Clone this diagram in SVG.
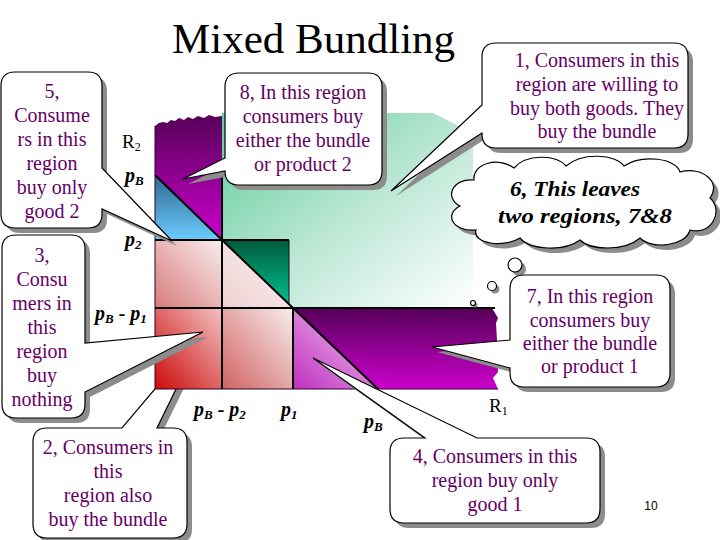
<svg xmlns="http://www.w3.org/2000/svg" width="720" height="540" viewBox="0 0 720 540">
<defs>
<style>
.ct{font-family:"Liberation Serif","Times New Roman",serif;font-size:20px;fill:#660066;text-anchor:middle}
.lb{font-family:"Liberation Serif","Times New Roman",serif;font-size:20px;font-weight:bold;font-style:italic;fill:#000}
.rl{font-family:"Liberation Serif","Times New Roman",serif;font-size:19px;fill:#000}
.box{fill:#fff;stroke:#000;stroke-width:1.2}
.sh{fill:#8c8c8c}
.ln{stroke:#000;stroke-width:2;fill:none}
.thin{stroke:#2a002a;stroke-width:1;fill:none}
</style>
<linearGradient id="gTeal" x1="0" y1="0" x2="1" y2="1"><stop offset="0" stop-color="#5ecb9c"/><stop offset="0.5" stop-color="#b8e6d2"/><stop offset="1" stop-color="#ffffff"/></linearGradient>
<linearGradient id="gPurV" x1="0" y1="0" x2="0" y2="1"><stop offset="0" stop-color="#550058"/><stop offset="1" stop-color="#cc00cc"/></linearGradient>
<linearGradient id="gBlue" x1="0" y1="0" x2="0" y2="1"><stop offset="0" stop-color="#2e6890"/><stop offset="1" stop-color="#6cccff"/></linearGradient>
<linearGradient id="gGreen" x1="0" y1="0" x2="0" y2="1"><stop offset="0" stop-color="#005a3a"/><stop offset="1" stop-color="#00c292"/></linearGradient>
<linearGradient id="gPink1" x1="0" y1="1" x2="1" y2="0"><stop offset="0" stop-color="#d87a7a"/><stop offset="1" stop-color="#f8eeee"/></linearGradient>
<linearGradient id="gRed" x1="0" y1="1" x2="1" y2="0"><stop offset="0" stop-color="#cc0a0a"/><stop offset="1" stop-color="#f2c2c2"/></linearGradient>
<linearGradient id="gPink4" x1="0" y1="1" x2="1" y2="0"><stop offset="0" stop-color="#d06262"/><stop offset="1" stop-color="#f8eded"/></linearGradient>
<linearGradient id="gPinkT" x1="0" y1="1" x2="1" y2="0"><stop offset="0" stop-color="#eed0d0"/><stop offset="1" stop-color="#fbf4f4"/></linearGradient>
<linearGradient id="gMag" x1="0" y1="1" x2="1" y2="0"><stop offset="0" stop-color="#c02ec0"/><stop offset="1" stop-color="#f2d0f2"/></linearGradient>
</defs>
<rect width="720" height="540" fill="#fff"/>

<g id="callout2">
<path class="sh" transform="translate(5,5)" d="M47,428 H122 L205,330 L157,428 H173 Q187,428 187,442 V524 Q187,538 173,538 H47 Q33,538 33,524 V442 Q33,428 47,428 Z"/>
<path class="box" d="M47,428 H122 L205,330 L157,428 H173 Q187,428 187,442 V524 Q187,538 173,538 H47 Q33,538 33,524 V442 Q33,428 47,428 Z"/>
<text class="ct"><tspan x="108" y="454">2, Consumers in</tspan><tspan x="108" y="478">this</tspan><tspan x="108" y="502">region also</tspan><tspan x="108" y="526">buy the bundle</tspan></text>
</g>

<g id="plot">
<polygon fill="url(#gTeal)" points="222,113 433,113 473,133 473,308 222,308"/>
<polygon fill="url(#gPurV)" points="155,126 159,123 163,122 167,123 171,120 175,121 179,118 184,120 188,117 193,119 198,116 204,118 209,115 215,117 222,116 222,240 155,175"/>
<polygon fill="url(#gBlue)" points="155,175 222,240 155,240"/>
<rect x="155" y="240" width="67" height="68" fill="url(#gPink1)"/>
<polygon fill="url(#gPinkT)" points="222,240 293,308 222,308"/>
<polygon fill="url(#gGreen)" points="222,240 289,240 289,304"/>
<rect x="155" y="308" width="67" height="81" fill="url(#gRed)"/>
<rect x="222" y="308" width="71" height="81" fill="url(#gPink4)"/>
<polygon fill="url(#gPurV)" points="293,308 492,308 498,318 496,323 497,340 498,372 493,378 498,389 378,389"/>
<polygon fill="url(#gMag)" points="293,308 378,389 293,389"/>
</g>

<g id="connectors">
<line class="thin" x1="155" y1="126" x2="155" y2="389"/>
<line class="thin" x1="155" y1="389" x2="498" y2="389"/>
<line class="thin" x1="289" y1="240" x2="289" y2="304"/>
<line class="ln" x1="222" y1="175" x2="222" y2="389"/>
<line class="ln" x1="293" y1="308" x2="293" y2="389"/>
<line class="ln" x1="155" y1="240" x2="289" y2="240"/>
<line class="ln" x1="155" y1="308" x2="495" y2="308"/>
<line class="ln" x1="155" y1="175" x2="222" y2="240" stroke-width="1.5"/>
<line class="ln" x1="222" y1="240" x2="293" y2="308" stroke-width="1.5"/>
<line class="ln" x1="293" y1="308" x2="378" y2="389" stroke-width="1.5"/>
</g>

<g id="labels">
<text class="rl" x="122" y="148">R<tspan font-size="12" dy="3">2</tspan></text>
<text class="lb" x="125" y="182">p<tspan font-size="13" dy="3">B</tspan></text>
<text class="lb" x="125" y="246">p<tspan font-size="13" dy="3">2</tspan></text>
<text class="lb" x="95" y="320">p<tspan font-size="13" dy="3">B</tspan><tspan dy="-3"> - p</tspan><tspan font-size="13" dy="3">1</tspan></text>
<text class="lb" x="194" y="416">p<tspan font-size="13" dy="3">B</tspan><tspan dy="-3"> - p</tspan><tspan font-size="13" dy="3">2</tspan></text>
<text class="lb" x="281" y="416">p<tspan font-size="13" dy="3">1</tspan></text>
<text class="lb" x="364" y="428">p<tspan font-size="13" dy="3">B</tspan></text>
<text class="rl" x="489" y="412">R<tspan font-size="12" dy="3">1</tspan></text>
</g>

<g id="callout5">
<path class="sh" transform="translate(5,5)" d="M15,72 H88 Q102,72 102,86 V168 L172,241 L102,209 V214 Q102,228 88,228 H15 Q1,228 1,214 V86 Q1,72 15,72 Z"/>
<path class="box" d="M15,72 H88 Q102,72 102,86 V168 L172,241 L102,209 V214 Q102,228 88,228 H15 Q1,228 1,214 V86 Q1,72 15,72 Z"/>
<text class="ct"><tspan x="52" y="98">5,</tspan><tspan x="52" y="122">Consume</tspan><tspan x="52" y="146">rs in this</tspan><tspan x="52" y="170">region</tspan><tspan x="52" y="194">buy only</tspan><tspan x="52" y="218">good 2</tspan></text>
</g>

<g id="callout3">
<path class="sh" transform="translate(5,5)" d="M16,235 H71 Q85,235 85,249 V343 L203,332 L85,392 V404 Q85,418 71,418 H16 Q2,418 2,404 V249 Q2,235 16,235 Z"/>
<path class="box" d="M16,235 H71 Q85,235 85,249 V343 L203,332 L85,392 V404 Q85,418 71,418 H16 Q2,418 2,404 V249 Q2,235 16,235 Z"/>
<text class="ct"><tspan x="42" y="262">3,</tspan><tspan x="42" y="286">Consu</tspan><tspan x="42" y="310">mers in</tspan><tspan x="42" y="334">this</tspan><tspan x="42" y="358">region</tspan><tspan x="42" y="382">buy</tspan><tspan x="42" y="406">nothing</tspan></text>
</g>

<g id="callout8">
<path class="sh" transform="translate(5,5)" d="M239,73 H368 Q382,73 382,87 V171 Q382,185 368,185 H239 Q225,185 225,171 L183,179 L225,158 V87 Q225,73 239,73 Z"/>
<path class="box" d="M239,73 H368 Q382,73 382,87 V171 Q382,185 368,185 H239 Q225,185 225,171 L183,179 L225,158 V87 Q225,73 239,73 Z"/>
<text class="ct"><tspan x="303" y="99">8, In this region</tspan><tspan x="303" y="123">consumers buy</tspan><tspan x="303" y="147">either the bundle</tspan><tspan x="303" y="171">or product 2</tspan></text>
</g>

<g id="callout1">
<path class="sh" transform="translate(5,5)" d="M496,43 H674 Q688,43 688,57 V134 Q688,148 674,148 H496 Q482,148 482,134 V133 L391,191 L482,105 V57 Q482,43 496,43 Z"/>
<path class="box" d="M496,43 H674 Q688,43 688,57 V134 Q688,148 674,148 H496 Q482,148 482,134 V133 L391,191 L482,105 V57 Q482,43 496,43 Z"/>
<text class="ct"><tspan x="597" y="67">1, Consumers in this</tspan><tspan x="597" y="91">region are willing to</tspan><tspan x="597" y="115">buy both goods.  They</tspan><tspan x="597" y="138">buy the bundle</tspan></text>
</g>

<g id="cloud6">
<path class="sh" transform="translate(5,5)" d="M460,206 C444,198 452,178 474,180 C472,164 498,156 514,168 C526,154 556,154 566,166 C582,152 616,154 624,166 C642,154 676,158 680,172 C702,166 722,182 710,198 C724,210 712,236 690,230 C686,246 652,250 640,238 C624,252 590,250 580,240 C564,252 530,250 520,238 C504,248 472,244 476,230 C452,232 444,214 460,206 Z"/>
<path class="box" d="M460,206 C444,198 452,178 474,180 C472,164 498,156 514,168 C526,154 556,154 566,166 C582,152 616,154 624,166 C642,154 676,158 680,172 C702,166 722,182 710,198 C724,210 712,236 690,230 C686,246 652,250 640,238 C624,252 590,250 580,240 C564,252 530,250 520,238 C504,248 472,244 476,230 C452,232 444,214 460,206 Z"/>
<text class="lb" font-size="24" text-anchor="middle"><tspan x="575" y="196" textLength="130" lengthAdjust="spacingAndGlyphs">6, This leaves</tspan><tspan x="585" y="223" textLength="174" lengthAdjust="spacingAndGlyphs">two regions, 7&amp;8</tspan></text>
</g>

<g id="bubbles">
<circle class="sh" cx="519" cy="269" r="7"/>
<circle class="box" cx="515" cy="265" r="7"/>
<circle class="sh" cx="495" cy="289" r="4.5"/>
<circle class="box" cx="492" cy="286" r="4.5"/>
<circle class="sh" cx="475" cy="305" r="2.5"/>
<circle class="box" cx="473" cy="303" r="2.5"/>
</g>

<g id="callout7">
<path class="sh" transform="translate(5,5)" d="M524,275 H656 Q670,275 670,289 V373 Q670,387 656,387 H524 Q510,387 510,373 V368 L432,347 L510,340 V289 Q510,275 524,275 Z"/>
<path class="box" d="M524,275 H656 Q670,275 670,289 V373 Q670,387 656,387 H524 Q510,387 510,373 V368 L432,347 L510,340 V289 Q510,275 524,275 Z"/>
<text class="ct"><tspan x="590" y="303">7, In this region</tspan><tspan x="590" y="327">consumers buy</tspan><tspan x="590" y="350">either the bundle</tspan><tspan x="590" y="373">or product 1</tspan></text>
</g>

<g id="callout4">
<path class="sh" transform="translate(5,5)" d="M404,438 H425 L313,358 L477,438 H586 Q600,438 600,452 V509 Q600,523 586,523 H404 Q390,523 390,509 V452 Q390,438 404,438 Z"/>
<path class="box" d="M404,438 H425 L313,358 L477,438 H586 Q600,438 600,452 V509 Q600,523 586,523 H404 Q390,523 390,509 V452 Q390,438 404,438 Z"/>
<text class="ct"><tspan x="495" y="463">4, Consumers in this</tspan><tspan x="495" y="487">region buy only</tspan><tspan x="495" y="511">good 1</tspan></text>
</g>

<text x="172" y="53" font-family="Liberation Serif, Times New Roman, serif" font-size="43" fill="#000">Mixed Bundling</text>
<text x="651" y="510" font-family="Liberation Sans, Arial, sans-serif" font-size="12" fill="#000" text-anchor="middle">10</text>
</svg>
